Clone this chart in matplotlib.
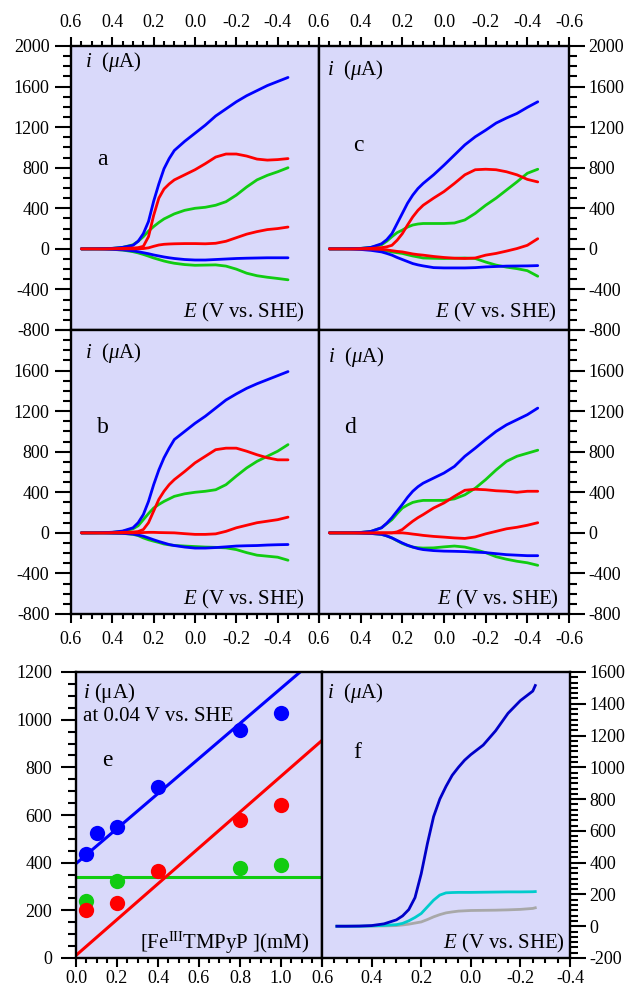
import matplotlib
matplotlib.use("Agg")
import matplotlib.pyplot as plt
from matplotlib.ticker import MultipleLocator, FuncFormatter

plt.rcParams['font.family'] = 'Liberation Serif'
plt.rcParams['mathtext.fontset'] = 'custom'
plt.rcParams['mathtext.rm'] = 'Liberation Serif'
plt.rcParams['mathtext.it'] = 'Liberation Serif:italic'
plt.rcParams['axes.unicode_minus'] = False
plt.rcParams['font.size'] = 13

BG = '#d9d9fa'
BLUE, RED, GREEN = '#0000ff', '#ff0000', '#11cc11'
TXT = 15

# potential grid (V vs. SHE) for panels a-d
E = [0.55, 0.50, 0.45, 0.40, 0.35, 0.30, 0.275, 0.25, 0.225, 0.20, 0.175, 0.15, 0.125,
     0.10, 0.05, 0.00, -0.05, -0.10, -0.15, -0.20, -0.25, -0.30, -0.35, -0.40, -0.45]

a_blue_up = [0, 0, 2, 5, 15, 35, 75, 150, 270, 470, 640, 790, 890, 970, 1060, 1140, 1220, 1310, 1380, 1450, 1510, 1560, 1610, 1650, 1690]
a_red_up = [0, 0, 0, 2, 5, 8, 12, 25, 120, 330, 500, 590, 640, 680, 730, 780, 840, 905, 935, 935, 915, 885, 875, 880, 890]
a_green_up = [0, 0, 2, 5, 15, 40, 75, 120, 175, 220, 260, 295, 320, 345, 380, 400, 410, 430, 465, 530, 610, 680, 725, 760, 800]
a_red_low = [0, 0, 0, 0, 0, 0, 1, 3, 10, 25, 38, 45, 48, 50, 52, 52, 50, 55, 75, 110, 145, 170, 190, 200, 215]
a_blue_low = [0, 0, -2, -5, -10, -20, -28, -38, -48, -60, -70, -80, -88, -95, -105, -110, -110, -105, -100, -95, -92, -90, -88, -88, -88]
a_green_low = [0, 0, -2, -5, -12, -28, -40, -55, -72, -90, -105, -120, -132, -142, -155, -162, -160, -158, -170, -200, -240, -265, -280, -292, -305]

b_blue_up = [0, 0, 2, 6, 18, 50, 100, 180, 310, 475, 620, 740, 835, 920, 1000, 1080, 1150, 1230, 1310, 1370, 1425, 1470, 1510, 1550, 1590]
b_red_up = [0, 0, 0, 2, 5, 8, 13, 33, 100, 215, 330, 410, 475, 525, 605, 690, 755, 820, 835, 835, 805, 770, 740, 720, 720]
b_green_up = [0, 0, 2, 5, 15, 40, 70, 130, 190, 245, 280, 310, 335, 360, 385, 400, 410, 425, 475, 560, 640, 705, 755, 805, 870]
b_red_low = [0, 0, 0, 0, 0, 0, 1, 3, 5, 5, 3, 2, 1, 0, -8, -15, -15, -10, 15, 50, 75, 100, 115, 130, 155]
b_blue_low = [0, 0, -1, -3, -5, -12, -22, -33, -50, -68, -85, -100, -115, -125, -140, -150, -150, -145, -138, -130, -127, -125, -120, -117, -115]
b_green_low = [0, 0, -1, -3, -5, -15, -27, -50, -68, -82, -95, -110, -118, -124, -130, -135, -140, -143, -148, -165, -195, -220, -230, -240, -270]

c_blue_up = [0, 0, 2, 4, 15, 50, 90, 150, 250, 350, 450, 530, 595, 645, 730, 825, 925, 1025, 1105, 1170, 1240, 1290, 1335, 1395, 1450]
c_red_up = [0, 0, 0, 2, 5, 12, 20, 35, 85, 150, 235, 315, 380, 430, 500, 565, 645, 730, 780, 785, 780, 760, 730, 685, 660]
c_green_up = [0, 0, 2, 5, 15, 40, 75, 120, 160, 185, 215, 235, 245, 250, 250, 250, 255, 285, 350, 430, 500, 580, 660, 745, 785]
c_red_low = [0, 0, 0, -1, -2, -5, -10, -18, -25, -30, -40, -50, -57, -62, -75, -85, -92, -95, -90, -62, -45, -22, 3, 35, 100]
c_green_low = [0, 0, -1, -3, -6, -12, -20, -30, -38, -45, -58, -70, -80, -90, -93, -95, -93, -90, -95, -130, -160, -180, -195, -215, -270]
c_blue_low = [0, 0, -2, -6, -15, -30, -45, -62, -85, -105, -125, -145, -158, -168, -185, -188, -188, -188, -185, -178, -174, -170, -169, -168, -165]

d_blue_up = [0, 0, 1, 4, 15, 50, 95, 150, 215, 280, 350, 410, 455, 490, 540, 590, 655, 755, 835, 920, 1000, 1065, 1115, 1165, 1230]
d_green_up = [0, 0, 1, 4, 15, 50, 90, 130, 190, 245, 275, 300, 312, 320, 320, 320, 335, 375, 440, 525, 620, 705, 755, 785, 815]
d_red_up = [0, 0, 0, 0, 0, 0, 0, 0, 10, 33, 75, 115, 150, 180, 245, 295, 360, 420, 430, 425, 415, 410, 400, 410, 410]
d_red_low = [0, 0, 0, 0, 0, 0, 0, 0, 0, 0, -5, -12, -18, -25, -35, -42, -50, -55, -40, -10, 15, 40, 55, 75, 100]
d_blue_low = [0, 0, -1, -3, -6, -15, -30, -50, -75, -100, -122, -140, -155, -165, -175, -180, -182, -185, -190, -195, -205, -215, -220, -225, -225]
d_green_low = [0, 0, -1, -3, -6, -15, -30, -50, -78, -105, -125, -140, -147, -150, -148, -138, -130, -140, -165, -195, -235, -260, -280, -295, -320]

# panel e: current at 0.04 V vs. [FeIII TMPyP]
conc_blue = [0.05, 0.1, 0.2, 0.4, 0.8, 1.0]
i_blue = [438, 526, 550, 717, 955, 1028]
conc_red = [0.05, 0.2, 0.4, 0.8, 1.0]
i_red = [203, 232, 365, 578, 640]
conc_green = [0.05, 0.2, 0.8, 1.0]
i_green = [239, 323, 379, 389]
fit_blue_c, fit_blue_i = [0.0, 1.1], [396, 1205]
fit_red_c, fit_red_i = [0.0, 1.2], [11, 913]
fit_green_c, fit_green_i = [0.0, 1.2], [338, 338]

# panel f
Ef = [0.54, 0.50, 0.45, 0.40, 0.35, 0.30, 0.275, 0.25, 0.225, 0.20, 0.175, 0.15, 0.125, 0.10,
      0.075, 0.05, 0.025, 0.00, -0.05, -0.10, -0.15, -0.20, -0.25, -0.26]
f_blue = [0, 0, 1, 4, 15, 40, 65, 105, 180, 330, 520, 690, 800, 880, 950, 1000, 1045, 1080, 1140, 1230, 1340, 1420, 1480, 1515]
f_cyan = [0, 0, 0, 2, 5, 10, 18, 34, 55, 80, 122, 164, 196, 210, 212, 213, 213, 213, 214, 215, 216, 216, 217, 218]
f_gray = [0, 0, 0, 1, 2, 4, 8, 13, 20, 27, 42, 59, 73, 84, 90, 95, 97, 99, 100, 101, 103, 106, 112, 116]

I_LABEL = r'$i$  ($\mu$A)'
E_LABEL = r'$E$ (V vs. SHE)'


def fmt(decimals, hide=()):
    def f(v, pos):
        r = round(v, decimals)
        if any(abs(r - h) < 1e-9 for h in hide):
            return ''
        if decimals == 0:
            return f'{int(r)}'
        return f'{r + 0.0:.{decimals}f}'
    return FuncFormatter(f)


def px_axes(fig, x0, y0, x1, y1):
    return fig.add_axes([x0 / 627, 1 - y1 / 990, (x1 - x0) / 627, (y1 - y0) / 990])


def style_ticks(ax, xside, yside, xpad=5, ypad=4):
    ax.set_facecolor(BG)
    for s in ax.spines.values():
        s.set_linewidth(1.7)
    ax.tick_params(axis='x', which='both', direction='out', width=1.5,
                   top=xside == 'top', bottom=xside == 'bottom',
                   labeltop=xside == 'top', labelbottom=xside == 'bottom')
    ax.tick_params(axis='x', which='major', length=6.5, pad=xpad)
    ax.tick_params(axis='x', which='minor', length=3.5)
    ax.tick_params(axis='y', which='both', direction='out', width=1.5,
                   left=yside == 'left', right=yside == 'right',
                   labelleft=yside == 'left', labelright=yside == 'right')
    ax.tick_params(axis='y', which='major', length=11.5, pad=ypad)
    ax.tick_params(axis='y', which='minor', length=5.8)


def cv_panel(ax, col, row, curves, letter, txt):
    ax.set_xlim(0.6, -0.6)
    ax.set_ylim(-800, 2000)
    ax.xaxis.set_major_locator(MultipleLocator(0.2))
    ax.xaxis.set_minor_locator(MultipleLocator(0.05))
    ax.yaxis.set_major_locator(MultipleLocator(400))
    ax.yaxis.set_minor_locator(MultipleLocator(100))
    style_ticks(ax, 'top' if row == 0 else 'bottom', 'left' if col == 0 else 'right',
                xpad=4 if row == 0 else 6, ypad=4 if col == 0 else 2.5)
    ax.xaxis.set_major_formatter(fmt(1, (-0.6,) if col == 0 else ()))
    ax.yaxis.set_major_formatter(fmt(0, (2000,) if row == 1 else ()))
    for vals, c in curves:
        ax.plot(E, vals, color=c, lw=2.0, solid_capstyle='round')
    (ix, iy), (lx, ly), (ex, ey) = txt
    ax.text(ix, iy, I_LABEL, transform=ax.transAxes, fontsize=TXT, va='center', ha='left')
    ax.text(lx, ly, letter, transform=ax.transAxes, fontsize=17, va='center', ha='left')
    ax.text(ex, ey, E_LABEL, transform=ax.transAxes, fontsize=TXT, va='center', ha='right')


fig = plt.figure(figsize=(6.27, 9.9), dpi=100)

ax_a = px_axes(fig, 71, 46, 319, 330)
ax_c = px_axes(fig, 319, 46, 569, 330)
ax_b = px_axes(fig, 71, 330, 319, 614)
ax_d = px_axes(fig, 319, 330, 569, 614)

cv_panel(ax_a, 0, 0, [(a_green_low, GREEN), (a_blue_low, BLUE), (a_red_low, RED),
                      (a_green_up, GREEN), (a_blue_up, BLUE), (a_red_up, RED)], 'a',
         [(0.056, 0.944), (0.105, 0.60), (0.944, 0.06)])
cv_panel(ax_c, 1, 0, [(c_green_low, GREEN), (c_blue_low, BLUE), (c_red_low, RED),
                      (c_green_up, GREEN), (c_blue_up, BLUE), (c_red_up, RED)], 'c',
         [(0.032, 0.915), (0.135, 0.65), (0.952, 0.06)])
cv_panel(ax_b, 0, 1, [(b_green_low, GREEN), (b_blue_low, BLUE), (b_red_low, RED),
                      (b_green_up, GREEN), (b_blue_up, BLUE), (b_red_up, RED)], 'b',
         [(0.056, 0.919), (0.105, 0.655), (0.944, 0.05)])
cv_panel(ax_d, 1, 1, [(d_green_low, GREEN), (d_blue_low, BLUE), (d_red_low, RED),
                      (d_green_up, GREEN), (d_blue_up, BLUE), (d_red_up, RED)], 'd',
         [(0.036, 0.905), (0.10, 0.655), (0.96, 0.05)])

# panel e
ax_e = px_axes(fig, 76, 672, 322, 958)
ax_e.set_xlim(0, 1.2)
ax_e.set_ylim(0, 1200)
ax_e.xaxis.set_major_locator(MultipleLocator(0.2))
ax_e.xaxis.set_minor_locator(MultipleLocator(0.05))
ax_e.yaxis.set_major_locator(MultipleLocator(200))
ax_e.yaxis.set_minor_locator(MultipleLocator(50))
style_ticks(ax_e, 'bottom', 'left', xpad=2, ypad=6)
ax_e.tick_params(axis='y', which='major', length=11)
ax_e.xaxis.set_major_formatter(fmt(1, (1.2,)))
ax_e.yaxis.set_major_formatter(fmt(0))
ax_e.plot(fit_green_c, fit_green_i, color=GREEN, lw=2.2)
ax_e.plot(fit_red_c, fit_red_i, color=RED, lw=2.2)
ax_e.plot(fit_blue_c, fit_blue_i, color=BLUE, lw=2.2)
ax_e.plot(conc_green, i_green, 'o', color=GREEN, ms=11, mec='none')
ax_e.plot(conc_red, i_red, 'o', color=RED, ms=11, mec='none')
ax_e.plot(conc_blue, i_blue, 'o', color=BLUE, ms=11, mec='none')
ax_e.text(0.028, 0.927, r'$i$ (μA)', transform=ax_e.transAxes, fontsize=TXT, va='center', ha='left')
ax_e.text(0.028, 0.843, 'at 0.04 V vs. SHE', transform=ax_e.transAxes, fontsize=TXT, va='center', ha='left')
ax_e.text(0.106, 0.692, 'e', transform=ax_e.transAxes, fontsize=17, va='center', ha='left')
ax_e.text(0.951, 0.052, r'[Fe$^{\mathrm{III}}$TMPyP ](mM)', transform=ax_e.transAxes,
          fontsize=TXT, va='center', ha='right')

# panel f
ax_f = px_axes(fig, 322, 672, 570, 958)
ax_f.set_xlim(0.6, -0.4)
ax_f.set_ylim(-200, 1600)
ax_f.xaxis.set_major_locator(MultipleLocator(0.2))
ax_f.xaxis.set_minor_locator(MultipleLocator(0.05))
ax_f.yaxis.set_major_locator(MultipleLocator(200))
ax_f.yaxis.set_minor_locator(MultipleLocator(200 / 6))
style_ticks(ax_f, 'bottom', 'right', xpad=2, ypad=2.5)
ax_f.xaxis.set_major_formatter(fmt(1))
ax_f.yaxis.set_major_formatter(fmt(0))
ax_f.plot(Ef, f_gray, color='#a8a8a8', lw=2.0)
ax_f.plot(Ef, f_cyan, color='#00cccc', lw=2.0)
ax_f.plot(Ef, f_blue, color='#0000c8', lw=2.0)
ax_f.text(0.02, 0.927, I_LABEL, transform=ax_f.transAxes, fontsize=TXT, va='center', ha='left')
ax_f.text(0.125, 0.717, 'f', transform=ax_f.transAxes, fontsize=17, va='center', ha='left')
ax_f.text(0.98, 0.052, E_LABEL, transform=ax_f.transAxes, fontsize=TXT, va='center', ha='right')

fig.savefig('out.png', dpi=100, facecolor='white')
